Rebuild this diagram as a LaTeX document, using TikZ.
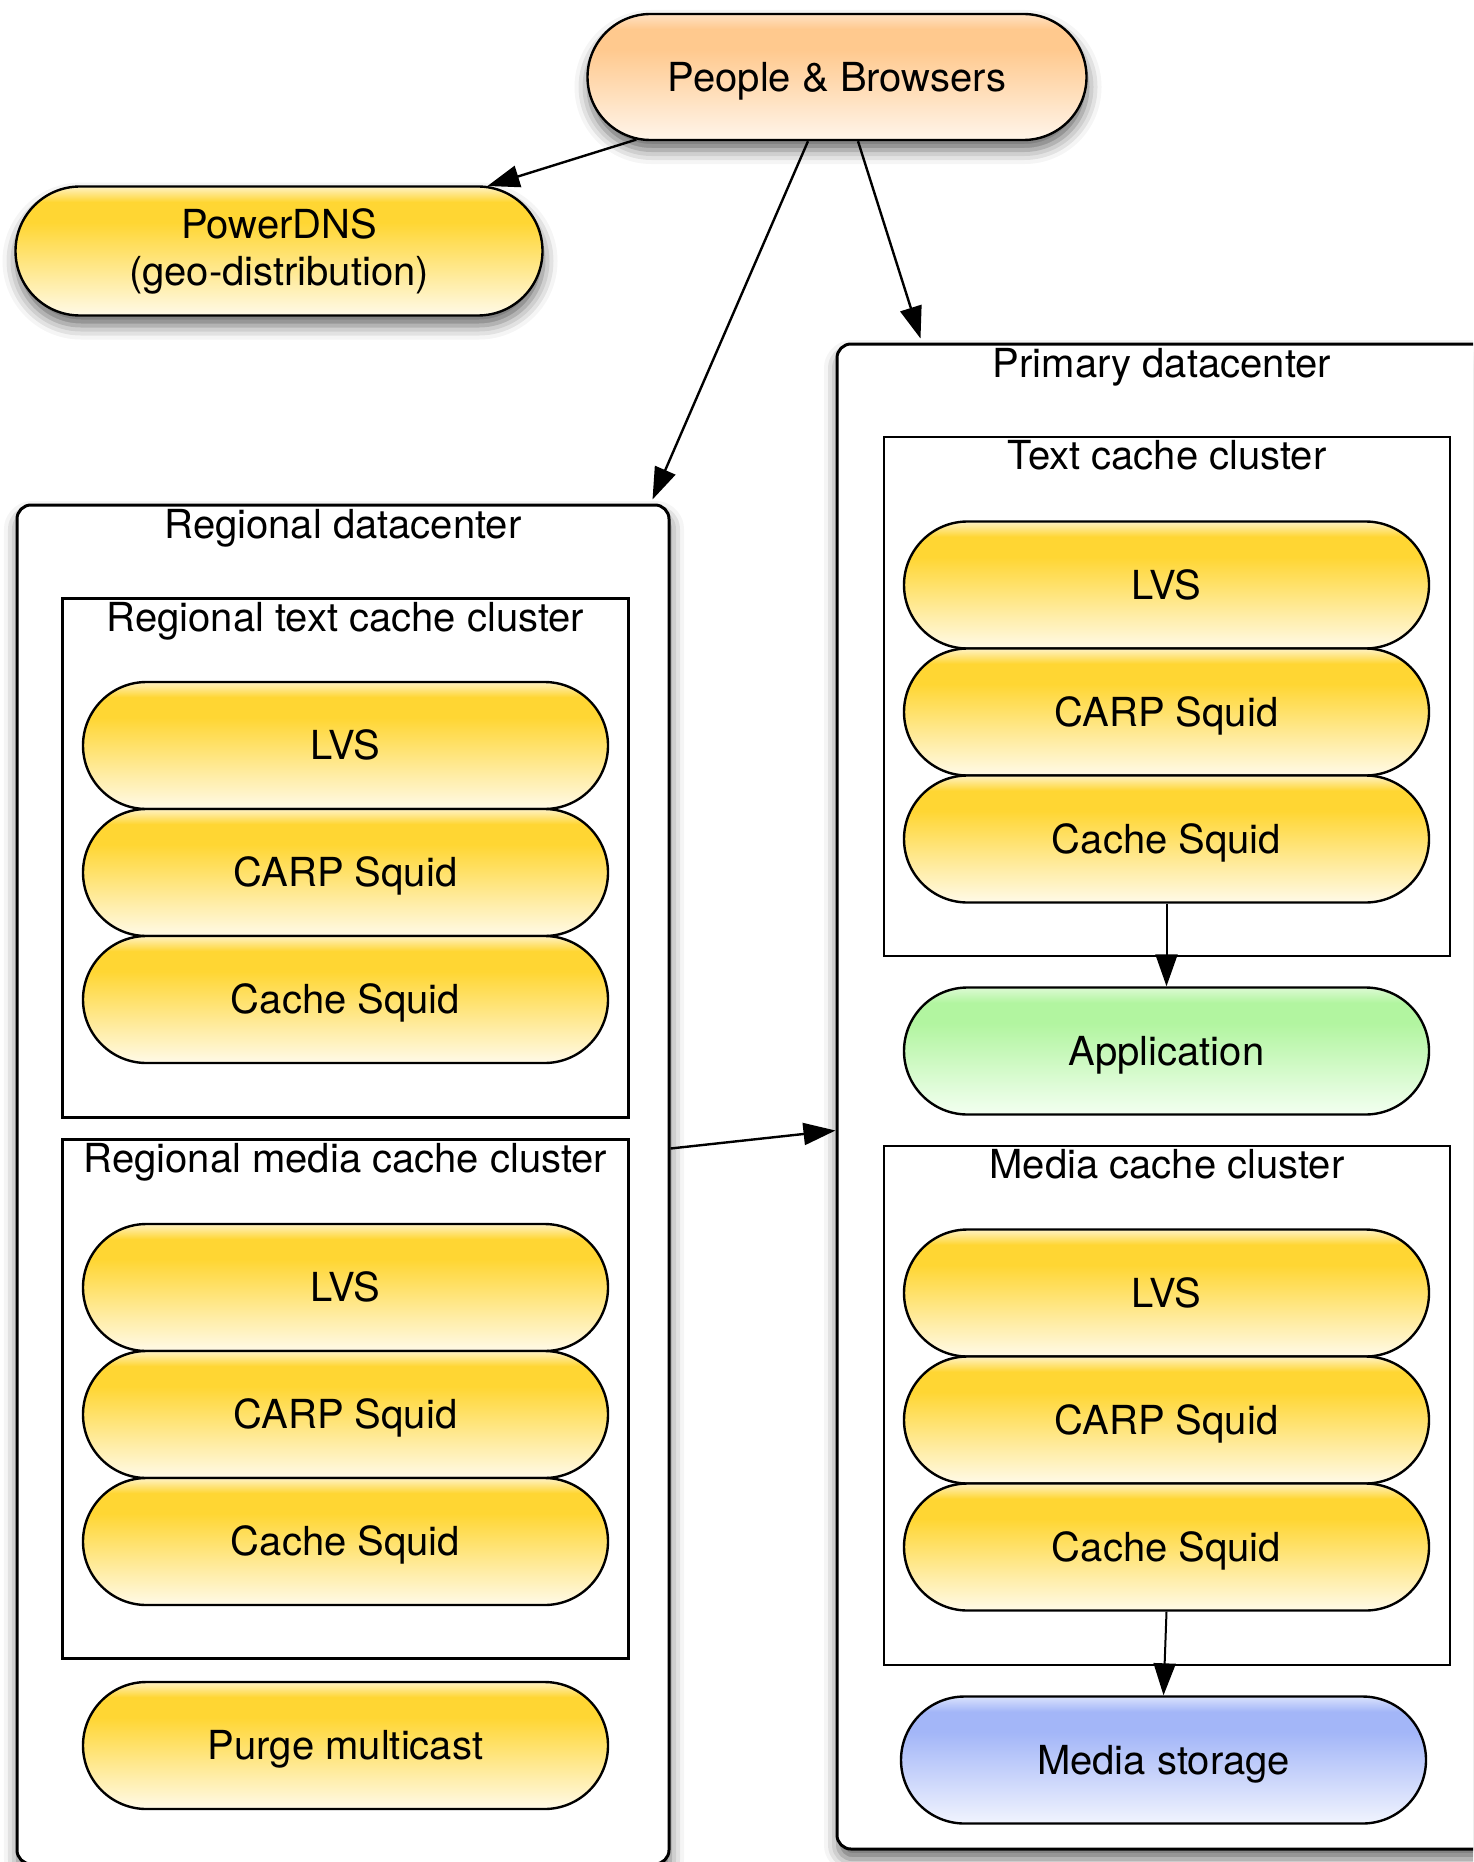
\documentclass[tikz,border=0pt]{standalone}
\usepackage{fontspec}
\setmainfont{TeX Gyre Heros}
\usetikzlibrary{shapes.misc,arrows.meta,shadows.blur}

\definecolor{goldhi}{HTML}{FFD633}
\definecolor{goldlo}{HTML}{FFFAE8}
\definecolor{goldtop}{HTML}{FFF2C4}
\definecolor{peachhi}{HTML}{FFC98E}
\definecolor{peachlo}{HTML}{FFF5EA}
\definecolor{peachtop}{HTML}{FFE2C4}
\definecolor{greenhi}{HTML}{B2F5A0}
\definecolor{greenlo}{HTML}{F3FFF1}
\definecolor{greentop}{HTML}{DDFAD4}
\definecolor{bluehi}{HTML}{A3B6F8}
\definecolor{bluelo}{HTML}{F1F4FE}
\definecolor{bluetop}{HTML}{DAE2FC}

\pgfdeclareverticalshading{goldglass}{100bp}{color(0bp)=(goldlo); color(25bp)=(goldlo); color(61bp)=(goldhi); color(69bp)=(goldhi); color(75bp)=(goldtop); color(100bp)=(goldtop)}
\pgfdeclareverticalshading{peachglass}{100bp}{color(0bp)=(peachlo); color(25bp)=(peachlo); color(61bp)=(peachhi); color(69bp)=(peachhi); color(75bp)=(peachtop); color(100bp)=(peachtop)}
\pgfdeclareverticalshading{greenglass}{100bp}{color(0bp)=(greenlo); color(25bp)=(greenlo); color(61bp)=(greenhi); color(69bp)=(greenhi); color(75bp)=(greentop); color(100bp)=(greentop)}
\pgfdeclareverticalshading{blueglass}{100bp}{color(0bp)=(bluelo); color(25bp)=(bluelo); color(61bp)=(bluehi); color(69bp)=(bluehi); color(75bp)=(bluetop); color(100bp)=(bluetop)}

\begin{document}
\begin{tikzpicture}[x=0.5pt, y=-0.5pt, >={Triangle[length=16pt,width=11pt]},
    font=\fontsize{20}{23.5}\selectfont,
    capsule/.style={rounded rectangle, draw, line width=1.2pt, minimum width=262.5pt,
      minimum height=63.5pt, inner sep=0pt, shade, shading=goldglass},
    pill/.style={capsule, text height=14.4pt, text depth=0pt},
    dropshade/.style={blur shadow={shadow xshift=0.5pt, shadow yshift=-5pt,
      shadow blur radius=7pt, shadow opacity=60}},
    dcbox/.style={draw, line width=1.5pt, rounded corners=7pt, fill=white, dropshade},
    clusterbox/.style={draw, line width=1.2pt, fill=white, minimum width=283pt, minimum height=259.5pt},
    title/.style={anchor=base, inner sep=0pt},
    link/.style={->, line width=1.2pt},
    thinlink/.style={->, line width=1pt}]
  \clip (0,0) rectangle (1473,1862);

  \node[dcbox, minimum width=326pt, minimum height=679.5pt] (regdc) at (343,1184.5) {};
  \node[title] at ([yshift=-17.5pt]regdc.north) {Regional datacenter};
  \node[dcbox, minimum width=325pt, minimum height=752.5pt] (prim) at (1162,1096.5) {};
  \node[title] at ([yshift=-17.5pt]prim.north) {Primary datacenter};

  \node[clusterbox] (rtext) at (345.5,858) {};
  \node[title] at ([yshift=-17pt]rtext.north) {Regional text cache cluster};
  \node[clusterbox] (rmedia) at (345.5,1399) {};
  \node[title] at ([yshift=-17pt]rmedia.north) {Regional media cache cluster};
  \node[clusterbox] (ptext) at (1167,696.5) {};
  \node[title] at ([yshift=-17pt]ptext.north) {Text cache cluster};
  \node[clusterbox] (pmedia) at (1167,1405.5) {};
  \node[title] at ([yshift=-17pt]pmedia.north) {Media cache cluster};

  \node[pill, dropshade, shading=peachglass, minimum width=249.5pt, minimum height=63pt] (people) at (837,77) {People \& Browsers};
  \node[capsule, dropshade, align=center, minimum width=263.5pt, minimum height=64.5pt] (dns) at (279,251) {PowerDNS\\(geo-distribution)};

  \node[pill] (rtlvs) at (345.5,745.5) {LVS};
  \node[pill] (rtcarp) at (345.5,872.5) {CARP Squid};
  \node[pill] (rtcache) at (345.5,999.5) {Cache Squid};
  \node[pill] (rmlvs) at (345.5,1287.5) {LVS};
  \node[pill] (rmcarp) at (345.5,1414.5) {CARP Squid};
  \node[pill] (rmcache) at (345.5,1541.5) {Cache Squid};
  \node[pill] (purge) at (345.5,1745.5) {Purge multicast};

  \node[pill] (ptlvs) at (1166.5,585) {LVS};
  \node[pill] (ptcarp) at (1166.5,712) {CARP Squid};
  \node[pill] (ptcache) at (1166.5,839) {Cache Squid};
  \node[pill, shading=greenglass] (app) at (1166.5,1051) {Application};
  \node[pill] (pmlvs) at (1166.5,1293) {LVS};
  \node[pill] (pmcarp) at (1166.5,1420) {CARP Squid};
  \node[pill] (pmcache) at (1166.5,1547) {Cache Squid};
  \node[pill, shading=blueglass] (store) at (1163.5,1760) {Media storage};

  \draw[link] (people) -- (dns);
  \draw[link] ([xshift=-14.5pt]people.south) -- ([xshift=-9pt,yshift=2pt]regdc.north east);
  \draw[link] ([xshift=10.5pt]people.south) -- ([xshift=42.5pt,yshift=2pt]prim.north west);
  \draw[link] ([yshift=-322.5pt]regdc.north east) -- ([yshift=-394pt]prim.north west);
  \draw[thinlink] (ptcache.south) -- (app.north);
  \draw[thinlink] (pmcache.south) -- (store.north);
\end{tikzpicture}
\end{document}
